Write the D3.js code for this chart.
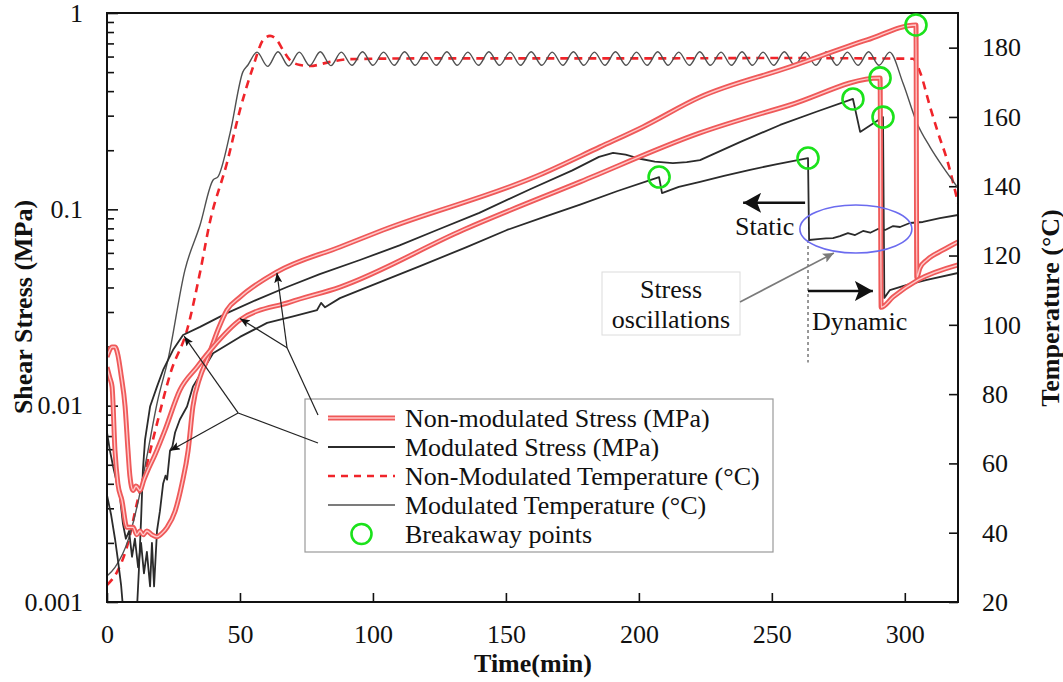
<!DOCTYPE html>
<html>
<head>
<meta charset="utf-8">
<script src="https://cdn.jsdelivr.net/npm/d3@7"></script>
<style>
  body { margin: 0; background: #fff; }
  svg { display: block; }
  text { font-family: "Liberation Serif", "Times New Roman", serif; fill: #111; }
</style>
</head>
<body>
<svg id="chart" width="1063" height="682"></svg>
<script>
// ---- axis ticks ----
const timeTicks = [0, 50, 100, 150, 200, 250, 300];
const stressTicks = [0.001, 0.01, 0.1, 1];
const stressTickLabels = ["0.001", "0.01", "0.1", "1"];
const tempTicks = [20, 40, 60, 80, 100, 120, 140, 160, 180];

// ---- series: [time (min), shear stress (MPa)] ----
const nonModStress1 = [
  [0, 0.0157], [1.1, 0.0138], [1.9, 0.0125], [3.0, 0.0059], [4.1, 0.0040], [5.6, 0.0033],
  [7.5, 0.0024], [9.8, 0.0024], [11.2, 0.0022], [12.4, 0.0023], [13.6, 0.0022], [15.0, 0.0023],
  [16.9, 0.0022], [18.8, 0.00215], [20.7, 0.00224], [22.6, 0.0024], [25.6, 0.0029], [28.2, 0.0040],
  [30.5, 0.0059], [32.3, 0.0099], [35.0, 0.0140], [37.6, 0.0171], [41.7, 0.0243], [45.1, 0.0307],
  [50.0, 0.0357], [63.9, 0.0480], [87.6, 0.0643], [103.8, 0.0785], [162.8, 0.150], [185.4, 0.208],
  [201.5, 0.263], [223.0, 0.373], [256.8, 0.531], [285.8, 0.729], [304.2, 0.869],
  [304.5, 0.045], [305.7, 0.0503], [308.3, 0.0552], [314.4, 0.0621], [320, 0.0682]
];
const nonModStress2 = [
  [0, 0.0177], [1.9, 0.0199], [3.0, 0.0199], [4.1, 0.0181], [5.3, 0.0143], [6.8, 0.0099],
  [7.9, 0.0059], [8.6, 0.0044], [9.8, 0.0037], [10.9, 0.0039], [12.4, 0.0037], [13.9, 0.0042],
  [15.4, 0.0047], [18.0, 0.0056], [21.8, 0.0075], [27.4, 0.0120], [33.8, 0.0157], [39.9, 0.0199],
  [50.0, 0.0273], [68.8, 0.0337], [87.6, 0.0402], [133.9, 0.0785], [177.9, 0.138], [223.0, 0.245],
  [256.8, 0.340], [290.7, 0.467], [291.1, 0.0317], [295.6, 0.0358], [305.0, 0.0437], [320, 0.0521]
];
const modStress1 = [
  [0, 0.0035], [1.5, 0.0028], [3.0, 0.0021], [4.1, 0.00164], [5.3, 0.00122], [6.0, 0.00094],
  [8.6, 0.0008], [11.3, 0.00094], [12.0, 0.00146], [12.8, 0.0026], [13.5, 0.0047], [14.3, 0.0067],
  [16.2, 0.0099], [18.8, 0.0125], [21.1, 0.0152], [24.8, 0.0192], [28.6, 0.0229], [35.0, 0.0252],
  [45.1, 0.0296], [56.0, 0.0345], [67.7, 0.0402], [80.0, 0.0468], [95.1, 0.0552], [110.0, 0.0655],
  [124.1, 0.0785], [140.0, 0.0960], [159.1, 0.1265], [175.0, 0.158], [185.0, 0.185], [190.3, 0.194],
  [195.0, 0.190], [200.4, 0.181], [206.0, 0.175], [212.8, 0.172], [218.0, 0.174], [223.0, 0.178],
  [238.0, 0.220], [253.1, 0.269], [267.0, 0.315], [280.5, 0.365], [283.2, 0.248], [291.8, 0.295],
  [292.3, 0.0354], [294.4, 0.0388], [300.8, 0.0412], [308.3, 0.0437], [320, 0.0474]
];
const modStress2 = [
  [0, 0.0073], [1.1, 0.0059], [2.3, 0.0049], [3.8, 0.0040], [4.9, 0.0034], [6.0, 0.0025],
  [7.1, 0.0021], [8.3, 0.0023], [9.4, 0.0017], [10.5, 0.0021], [11.7, 0.0015], [12.8, 0.0020],
  [13.9, 0.0014], [15.0, 0.0018], [16.2, 0.0012], [16.9, 0.0020], [17.7, 0.0012], [18.8, 0.0023],
  [19.9, 0.0029], [21.1, 0.0040], [22.0, 0.0044], [22.6, 0.0042], [23.7, 0.0059], [24.6, 0.0062],
  [25.6, 0.0073], [27.4, 0.0085], [30.1, 0.0099], [32.3, 0.0125], [36.1, 0.0152], [39.9, 0.0185],
  [50.0, 0.0224], [60.2, 0.0264], [70.0, 0.0285], [79.0, 0.0307], [80.5, 0.0334], [82.0, 0.0317],
  [87.6, 0.0353], [95.1, 0.0388], [117.7, 0.0514], [135.0, 0.0640], [150.4, 0.0785], [165.0, 0.092],
  [177.9, 0.1056], [192.0, 0.124], [207.6, 0.146], [208.7, 0.121], [215.0, 0.130], [223.0, 0.138],
  [232.0, 0.148], [241.8, 0.159], [252.0, 0.170], [263.6, 0.1825], [264.0, 0.0698], [267.3, 0.0705],
  [270.4, 0.0712], [273.0, 0.0714], [275.6, 0.0731], [278.6, 0.0757], [281.3, 0.0740], [284.3, 0.0776],
  [287.0, 0.0760], [289.9, 0.0794], [292.6, 0.0785], [295.6, 0.0822], [298.2, 0.0813], [301.9, 0.0852],
  [306.8, 0.0862], [313.2, 0.0903], [320, 0.0936]
];

// ---- series: [time (min), temperature (°C)] ----
const nonModTemp = [
  [0, 24.9], [3.8, 28.7], [7.5, 35.9], [11.3, 48.6], [15.4, 61.0], [18.8, 71.5], [24.0, 86.4],
  [30.1, 98.5], [35.0, 115.2], [38.7, 129.7], [45.1, 146.7], [50.0, 162.0], [54.9, 174.4],
  [58.7, 182.2], [61.3, 183.4], [63.9, 182.2], [66.2, 179.3], [68.8, 176.4], [72.6, 175.0],
  [76.3, 174.7], [83.9, 175.9], [91.4, 176.7], [120, 176.9], [200, 176.9], [250, 177.0],
  [303.0, 176.8], [305.7, 173.0], [309.5, 162.9], [312.5, 155.4], [315.9, 147.6], [320, 135.2]
];
const modTemp = [
  [0, 27.5], [3.0, 30.0], [8.0, 38.0], [12.0, 50.0], [15.0, 62.0], [19.0, 78.0], [22.9, 89.8],
  [29.3, 115.8], [35.0, 128.8], [39.9, 141.8], [41.7, 142.7], [46.3, 155.4], [51.1, 173.0],
  [53.0, 175.0], [56.4, 178.7],
  [60.4, 174.6], [64.3, 178.8], [68.3, 174.7], [72.3, 178.7], [76.2, 174.8], [80.2, 178.8],
  [84.2, 174.8], [88.1, 178.7], [92.1, 174.9], [96.1, 178.8], [100.0, 174.9], [104.0, 178.7],
  [108.0, 174.9], [111.9, 178.8], [115.9, 174.9], [119.8, 178.7], [123.8, 174.9], [127.8, 178.8],
  [131.7, 174.9], [135.7, 178.7], [139.7, 174.9], [143.6, 178.8], [147.6, 174.9], [151.6, 178.7],
  [155.5, 174.9], [159.5, 178.8], [163.5, 174.9], [167.4, 178.7], [171.4, 174.9], [175.4, 178.8],
  [179.3, 174.9], [183.3, 178.7], [187.2, 174.9], [191.2, 178.8], [195.2, 174.9], [199.1, 178.7],
  [203.1, 174.9], [207.1, 178.8], [211.0, 174.9], [215.0, 178.7], [219.0, 174.9], [222.9, 178.8],
  [226.9, 174.9], [230.9, 178.7], [234.8, 174.9], [238.8, 178.8], [242.7, 174.9], [246.7, 178.7],
  [250.7, 174.9], [254.7, 178.8], [258.6, 174.9], [262.6, 178.7], [266.5, 174.9], [270.5, 178.8],
  [274.5, 174.9], [278.4, 178.7], [282.4, 174.9], [286.4, 178.8], [290.3, 174.9], [294.3, 178.7],
  [299.3, 169.8], [304.6, 158.2], [309.5, 151.3], [314.4, 145.5], [320, 139.5]
];

// ---- breakaway points: [time (min), shear stress (MPa)] ----
const breakaway = [
  [207.6, 0.146], [263.6, 0.1825], [280.5, 0.365], [290.7, 0.467], [291.8, 0.295], [304.2, 0.869]
];

const legendLabels = [
  "Non-modulated Stress (MPa)",
  "Modulated Stress (MPa)",
  "Non-Modulated Temperature (°C)",
  "Modulated Temperature (°C)",
  "Breakaway points"
];

// ---- layout ----
const plot = { left: 107, right: 958, top: 13, bottom: 602 };
const FONT = 26;
const RED = "#ef5959", RED_CORE = "#ffc9c9", DASH_RED = "#f0242a";
const BLACK_LINE = "#2b2b2b", GREY_LINE = "#505050", GREEN = "#1be21b";

const svg = d3.select("#chart");
const x = d3.scaleLinear().domain([0, 320]).range([plot.left, plot.right]);
const yS = d3.scaleLog().domain([0.001, 1]).range([plot.bottom, plot.top]);
const yT = d3.scaleLinear().domain([20, 190]).range([plot.bottom, plot.top]);

const defs = svg.append("defs");
defs.append("clipPath").attr("id", "plotClip").append("rect")
  .attr("x", plot.left).attr("y", plot.top)
  .attr("width", plot.right - plot.left).attr("height", plot.bottom - plot.top);

function marker(id, len, half, color) {
  defs.append("marker").attr("id", id)
    .attr("markerUnits", "userSpaceOnUse")
    .attr("viewBox", `0 0 ${len} ${2 * half}`)
    .attr("refX", len).attr("refY", half)
    .attr("markerWidth", len).attr("markerHeight", 2 * half)
    .attr("orient", "auto")
    .append("path")
    .attr("d", `M0,0 L${len},${half} L0,${2 * half} L${len * 0.22},${half} Z`)
    .attr("fill", color);
}
marker("headBig", 18, 10, "#111");
marker("headSmall", 10, 4, "#111");
marker("headGrey", 11, 5, "#7a7a7a");

// ---- axes ----
function styleAxis(g) {
  g.attr("font-family", null).attr("font-size", null);
  g.select(".domain").remove();
  g.selectAll(".tick line").attr("stroke", "#111").attr("stroke-width", 1.6);
  g.selectAll("text").attr("font-size", FONT);
}

const minorStress = [];
for (const dec of [0.001, 0.01, 0.1]) for (let k = 2; k <= 9; k++) minorStress.push(+(dec * k).toPrecision(2));

svg.append("g").attr("transform", `translate(${plot.left},0)`)
  .call(d3.axisLeft(yS).tickValues(minorStress).tickFormat("").tickSize(-7).tickSizeOuter(0))
  .call(styleAxis);
svg.append("g").attr("transform", `translate(${plot.left},0)`)
  .call(d3.axisLeft(yS).tickValues(stressTicks).tickFormat((d, i) => stressTickLabels[i])
    .tickSize(-11).tickSizeOuter(0).tickPadding(24))
  .call(styleAxis);
svg.append("g").attr("transform", `translate(${plot.right},0)`)
  .call(d3.axisRight(yT).tickValues(tempTicks).tickSize(-9).tickSizeOuter(0).tickPadding(24))
  .call(styleAxis);
svg.append("g").attr("transform", `translate(0,${plot.bottom})`)
  .call(d3.axisBottom(x).tickValues(timeTicks).tickSize(-9).tickSizeOuter(0).tickPadding(23))
  .call(styleAxis);

// ---- curves ----
const curves = svg.append("g").attr("clip-path", "url(#plotClip)");
const lineT = d3.line().x(d => x(d[0])).y(d => yT(d[1])).curve(d3.curveMonotoneX);
const lineS = d3.line().x(d => x(d[0])).y(d => yS(d[1]));
const lineSsmooth = d3.line().x(d => x(d[0])).y(d => yS(d[1])).curve(d3.curveMonotoneX);

curves.append("path").datum(nonModTemp).attr("d", lineT)
  .attr("fill", "none").attr("stroke", DASH_RED).attr("stroke-width", 2.6).attr("stroke-dasharray", "8,6");
curves.append("path").datum(modTemp).attr("d", lineT)
  .attr("fill", "none").attr("stroke", GREY_LINE).attr("stroke-width", 1.4);

for (const s of [modStress1, modStress2]) {
  curves.append("path").datum(s).attr("d", lineS)
    .attr("fill", "none").attr("stroke", BLACK_LINE).attr("stroke-width", 1.8).attr("stroke-linejoin", "round");
}
for (const s of [nonModStress1, nonModStress2]) {
  curves.append("path").datum(s).attr("d", lineSsmooth)
    .attr("fill", "none").attr("stroke", RED).attr("stroke-width", 5).attr("stroke-linejoin", "round");
  curves.append("path").datum(s).attr("d", lineSsmooth)
    .attr("fill", "none").attr("stroke", RED_CORE).attr("stroke-width", 1.4).attr("stroke-linejoin", "round");
}

// plot frame
svg.append("rect").attr("x", plot.left).attr("y", plot.top)
  .attr("width", plot.right - plot.left).attr("height", plot.bottom - plot.top)
  .attr("fill", "none").attr("stroke", "#111").attr("stroke-width", 2);

// breakaway markers
svg.append("g").selectAll("circle").data(breakaway).join("circle")
  .attr("cx", d => x(d[0])).attr("cy", d => yS(d[1])).attr("r", 10.5)
  .attr("fill", "none").attr("stroke", GREEN).attr("stroke-width", 2.6);

// ---- static / dynamic annotations ----
const ann = svg.append("g");
ann.append("line")
  .attr("x1", x(263.6)).attr("x2", x(263.6)).attr("y1", yS(0.0698)).attr("y2", yS(0.0166))
  .attr("stroke", "#555").attr("stroke-width", 1.2).attr("stroke-dasharray", "3,3");
ann.append("line")
  .attr("x1", x(262.5)).attr("x2", x(239.2)).attr("y1", yS(0.108)).attr("y2", yS(0.108))
  .attr("stroke", "#111").attr("stroke-width", 2.4).attr("marker-end", "url(#headBig)");
ann.append("line")
  .attr("x1", x(263.6)).attr("x2", x(288.0)).attr("y1", yS(0.0384)).attr("y2", yS(0.0384))
  .attr("stroke", "#111").attr("stroke-width", 2.4).attr("marker-end", "url(#headBig)");
ann.append("text").attr("x", 735).attr("y", 235).attr("font-size", FONT).text("Static");
ann.append("text").attr("x", 812).attr("y", 330).attr("font-size", FONT).text("Dynamic");

const ellC = [x(281.6), yS(0.0794)];
ann.append("ellipse").attr("cx", ellC[0]).attr("cy", ellC[1]).attr("rx", 56).attr("ry", 24)
  .attr("fill", "none").attr("stroke", "#6b6bef").attr("stroke-width", 1.6);

// "Stress oscillations" callout
const box = { x: 602, y: 272, w: 138, h: 63 };
ann.append("rect").attr("x", box.x).attr("y", box.y).attr("width", box.w).attr("height", box.h)
  .attr("fill", "#fff").attr("stroke", "#dcdcdc").attr("stroke-width", 1);
ann.append("text").attr("x", box.x + box.w / 2).attr("y", 298).attr("text-anchor", "middle")
  .attr("font-size", FONT).text("Stress");
ann.append("text").attr("x", box.x + box.w / 2).attr("y", 328).attr("text-anchor", "middle")
  .attr("font-size", FONT).text("oscillations");
ann.append("line")
  .attr("x1", box.x + box.w).attr("y1", box.y + 30)
  .attr("x2", ellC[0] - 22).attr("y2", ellC[1] + 24)
  .attr("stroke", "#7a7a7a").attr("stroke-width", 1.6).attr("marker-end", "url(#headGrey)");

// ---- legend ----
const leg = { x: 305, y: 399, w: 468, h: 153, rowY: [418, 447, 476, 505, 534] };
const lg = svg.append("g");
lg.append("rect").attr("x", leg.x).attr("y", leg.y).attr("width", leg.w).attr("height", leg.h)
  .attr("fill", "#fff").attr("stroke", "#9a9a9a").attr("stroke-width", 1.2);
const sx1 = 328, sx2 = 395;
lg.append("line").attr("x1", sx1).attr("x2", sx2).attr("y1", leg.rowY[0]).attr("y2", leg.rowY[0])
  .attr("stroke", RED).attr("stroke-width", 5);
lg.append("line").attr("x1", sx1).attr("x2", sx2).attr("y1", leg.rowY[0]).attr("y2", leg.rowY[0])
  .attr("stroke", RED_CORE).attr("stroke-width", 1.4);
lg.append("line").attr("x1", sx1).attr("x2", sx2).attr("y1", leg.rowY[1]).attr("y2", leg.rowY[1])
  .attr("stroke", BLACK_LINE).attr("stroke-width", 1.8);
lg.append("line").attr("x1", sx1).attr("x2", sx2).attr("y1", leg.rowY[2]).attr("y2", leg.rowY[2])
  .attr("stroke", DASH_RED).attr("stroke-width", 2.4).attr("stroke-dasharray", "7,6");
lg.append("line").attr("x1", sx1).attr("x2", sx2).attr("y1", leg.rowY[3]).attr("y2", leg.rowY[3])
  .attr("stroke", GREY_LINE).attr("stroke-width", 1.4);
lg.append("circle").attr("cx", (sx1 + sx2) / 2).attr("cy", leg.rowY[4]).attr("r", 10)
  .attr("fill", "none").attr("stroke", GREEN).attr("stroke-width", 2.6);
lg.selectAll("text.lab").data(legendLabels).join("text").attr("class", "lab")
  .attr("x", 405).attr("y", (d, i) => leg.rowY[i] + 9).attr("font-size", FONT).text(d => d);

// ---- pointer lines from the legend to the stress curves ----
function pointer(vertex, targets, legendEnd) {
  const g = svg.append("g");
  for (const t of targets) {
    g.append("line").attr("x1", x(vertex[0])).attr("y1", yS(vertex[1]))
      .attr("x2", x(t[0])).attr("y2", yS(t[1]))
      .attr("stroke", "#222").attr("stroke-width", 1.2).attr("marker-end", "url(#headSmall)");
  }
  g.append("line").attr("x1", x(vertex[0])).attr("y1", yS(vertex[1]))
    .attr("x2", legendEnd[0]).attr("y2", legendEnd[1])
    .attr("stroke", "#222").attr("stroke-width", 1.2);
}
pointer([67.7, 0.0197], [[63.9, 0.0475], [50.0, 0.0278]], [318, 415]);
pointer([49.3, 0.00918], [[29.0, 0.0226], [23.7, 0.0059]], [318, 443]);

// ---- axis titles ----
svg.append("text").attr("transform", "translate(23,307) rotate(-90)")
  .attr("text-anchor", "middle").attr("dominant-baseline", "central")
  .attr("font-size", FONT).attr("font-weight", "bold").text("Shear Stress (MPa)");
svg.append("text").attr("transform", "translate(1050,308) rotate(-90)")
  .attr("text-anchor", "middle").attr("dominant-baseline", "central")
  .attr("font-size", FONT).attr("font-weight", "bold").text("Temperature (°C)");
svg.append("text").attr("x", 533).attr("y", 672).attr("text-anchor", "middle")
  .attr("font-size", FONT).attr("font-weight", "bold").text("Time(min)");
</script>
</body>
</html>
